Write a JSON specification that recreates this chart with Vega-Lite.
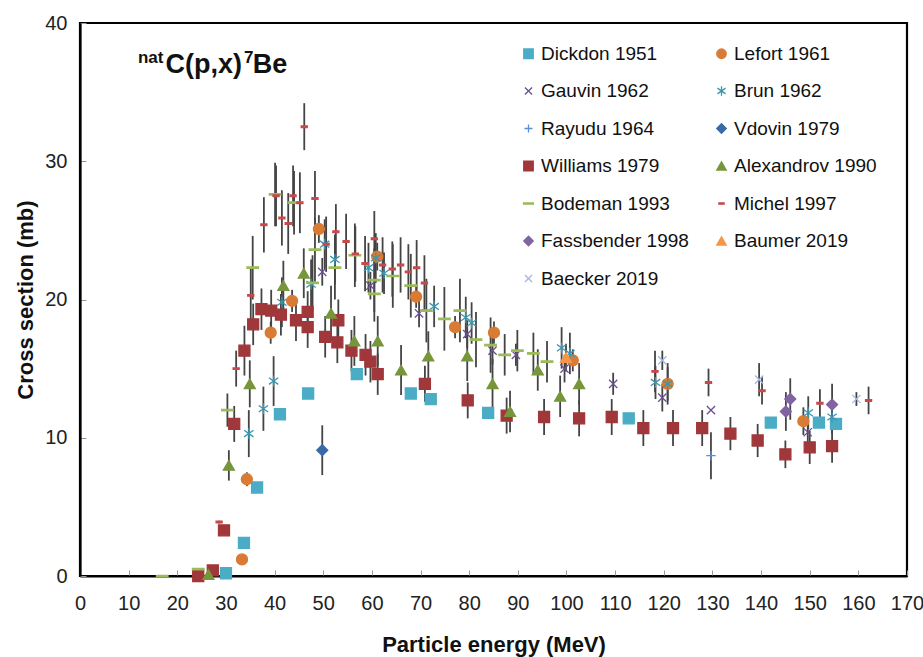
{
  "$schema": "https://vega.github.io/schema/vega-lite/v6.json",
  "width": 827,
  "height": 553,
  "autosize": {"type": "none"},
  "padding": {"left": 80, "top": 23, "right": 16, "bottom": 81},
  "config": {
    "font": "Liberation Sans",
    "view": {"stroke": "#000", "strokeWidth": 2.2},
    "axis": {"grid": false, "domainColor": "#000", "domainWidth": 2.2, "tickColor": "#999", "tickSize": -6, "tickWidth": 1, "labelFontSize": 20, "labelColor": "#222", "titleFontSize": 22, "titleFontWeight": "bold", "titleColor": "#111", "labelFont": "Liberation Sans", "titleFont": "Liberation Sans", "labelFlush": false, "labelOverlap": false},
    "legend": {"orient": "none", "legendX": 439, "legendY": 21, "columns": 2, "labelFontSize": 19, "labelColor": "#111", "labelFont": "Liberation Sans", "symbolSize": 90, "rowPadding": 17.5, "columnPadding": 23, "labelOffset": 3, "symbolStrokeWidth": 1.3, "padding": 0}
  },
  "datasets": {
    "pts": [
      {"s":"Dickdon 1951","x":30,"y":0.2,"e":0},{"s":"Dickdon 1951","x":33.7,"y":2.4,"e":0},{"s":"Dickdon 1951","x":36.4,"y":6.4,"e":0},{"s":"Dickdon 1951","x":41.1,"y":11.7,"e":0.4},{"s":"Dickdon 1951","x":46.9,"y":13.2,"e":0.4},{"s":"Dickdon 1951","x":56.9,"y":14.6,"e":0},{"s":"Dickdon 1951","x":68,"y":13.2,"e":0.3},{"s":"Dickdon 1951","x":72.1,"y":12.8,"e":0},{"s":"Dickdon 1951","x":83.9,"y":11.8,"e":0},{"s":"Dickdon 1951","x":112.8,"y":11.4,"e":0},{"s":"Dickdon 1951","x":142,"y":11.1,"e":0},{"s":"Dickdon 1951","x":151.9,"y":11.1,"e":0},{"s":"Dickdon 1951","x":155.4,"y":11.0,"e":0},
      {"s":"Lefort 1961","x":33.3,"y":1.2,"e":0},{"s":"Lefort 1961","x":34.3,"y":7.0,"e":0.5},{"s":"Lefort 1961","x":39.2,"y":17.6,"e":0.8},{"s":"Lefort 1961","x":43.6,"y":19.9,"e":0.8},{"s":"Lefort 1961","x":49.1,"y":25.1,"e":1.0},{"s":"Lefort 1961","x":61.1,"y":23.1,"e":1.0},{"s":"Lefort 1961","x":69.1,"y":20.2,"e":0.8},{"s":"Lefort 1961","x":77.1,"y":18.0,"e":0.8},{"s":"Lefort 1961","x":85.1,"y":17.6,"e":0.8},{"s":"Lefort 1961","x":101.3,"y":15.6,"e":0.8},{"s":"Lefort 1961","x":120.8,"y":13.9,"e":1.5},{"s":"Lefort 1961","x":148.7,"y":11.2,"e":1.0},
      {"s":"Gauvin 1962","x":49.8,"y":22.0,"e":1.0},{"s":"Gauvin 1962","x":59.7,"y":21.0,"e":1.0},{"s":"Gauvin 1962","x":69.7,"y":19.0,"e":1.0},{"s":"Gauvin 1962","x":79.6,"y":17.5,"e":1.0},{"s":"Gauvin 1962","x":84.8,"y":16.3,"e":1.0},{"s":"Gauvin 1962","x":89.6,"y":16.0,"e":0.8},{"s":"Gauvin 1962","x":99.6,"y":15.0,"e":1.0},{"s":"Gauvin 1962","x":109.6,"y":13.9,"e":0.8},{"s":"Gauvin 1962","x":119.7,"y":12.9,"e":1.0},{"s":"Gauvin 1962","x":129.7,"y":12.0,"e":0},{"s":"Gauvin 1962","x":149.6,"y":10.4,"e":0.8},
      {"s":"Brun 1962","x":34.7,"y":10.3,"e":1.7},{"s":"Brun 1962","x":37.7,"y":12.1,"e":1.6},{"s":"Brun 1962","x":39.8,"y":14.1,"e":1.8},{"s":"Brun 1962","x":41.5,"y":19.8,"e":1.8},{"s":"Brun 1962","x":47.5,"y":21.1,"e":1.8},{"s":"Brun 1962","x":50.3,"y":24.0,"e":1.8},{"s":"Brun 1962","x":52.4,"y":22.9,"e":1.8},{"s":"Brun 1962","x":59.3,"y":22.3,"e":1.8},{"s":"Brun 1962","x":60.8,"y":23.0,"e":1.8},{"s":"Brun 1962","x":62.5,"y":21.9,"e":1.5},{"s":"Brun 1962","x":72.8,"y":19.5,"e":1.5},{"s":"Brun 1962","x":79.3,"y":18.7,"e":1.5},{"s":"Brun 1962","x":80.5,"y":18.3,"e":1.5},{"s":"Brun 1962","x":99.0,"y":16.5,"e":1.5},{"s":"Brun 1962","x":100.7,"y":16.1,"e":1.5},{"s":"Brun 1962","x":118.3,"y":14.0,"e":1.2},{"s":"Brun 1962","x":120.8,"y":13.9,"e":1.2},{"s":"Brun 1962","x":149.7,"y":11.8,"e":1.2},{"s":"Brun 1962","x":154.6,"y":11.5,"e":1.2},
      {"s":"Rayudu 1964","x":129.7,"y":8.7,"e":1.7},
      {"s":"Vdovin 1979","x":49.8,"y":9.1,"e":1.8},
      {"s":"Williams 1979","x":24.3,"y":0,"e":0},{"s":"Williams 1979","x":27.3,"y":0.4,"e":0},{"s":"Williams 1979","x":29.6,"y":3.3,"e":0.3},{"s":"Williams 1979","x":31.7,"y":11.0,"e":1.3},{"s":"Williams 1979","x":33.8,"y":16.3,"e":1.8},{"s":"Williams 1979","x":35.6,"y":18.2,"e":1.5},{"s":"Williams 1979","x":37.3,"y":19.3,"e":1.5},{"s":"Williams 1979","x":39.3,"y":19.2,"e":1.5},{"s":"Williams 1979","x":41.3,"y":18.9,"e":1.5},{"s":"Williams 1979","x":44.4,"y":18.5,"e":1.5},{"s":"Williams 1979","x":46.8,"y":19.1,"e":1.5},{"s":"Williams 1979","x":46.8,"y":18.0,"e":1.5},{"s":"Williams 1979","x":50.4,"y":17.3,"e":1.5},{"s":"Williams 1979","x":53.1,"y":18.5,"e":1.5},{"s":"Williams 1979","x":52.9,"y":16.9,"e":1.5},{"s":"Williams 1979","x":55.8,"y":16.3,"e":1.5},{"s":"Williams 1979","x":58.7,"y":16.0,"e":1.5},{"s":"Williams 1979","x":59.7,"y":15.5,"e":1.5},{"s":"Williams 1979","x":61.2,"y":14.6,"e":1.5},{"s":"Williams 1979","x":70.9,"y":13.9,"e":1.3},{"s":"Williams 1979","x":79.7,"y":12.7,"e":1.3},{"s":"Williams 1979","x":87.7,"y":11.6,"e":1.3},{"s":"Williams 1979","x":95.4,"y":11.5,"e":1.3},{"s":"Williams 1979","x":102.6,"y":11.4,"e":1.3},{"s":"Williams 1979","x":109.3,"y":11.5,"e":1.3},{"s":"Williams 1979","x":115.8,"y":10.7,"e":1.3},{"s":"Williams 1979","x":121.9,"y":10.7,"e":1.3},{"s":"Williams 1979","x":127.9,"y":10.7,"e":1.3},{"s":"Williams 1979","x":133.7,"y":10.3,"e":1.2},{"s":"Williams 1979","x":139.3,"y":9.8,"e":1.2},{"s":"Williams 1979","x":145,"y":8.8,"e":1.0},{"s":"Williams 1979","x":150,"y":9.3,"e":1.2},{"s":"Williams 1979","x":154.6,"y":9.4,"e":1.2},
      {"s":"Alexandrov 1990","x":26.4,"y":0.1,"e":0},{"s":"Alexandrov 1990","x":30.6,"y":8.0,"e":1.1},{"s":"Alexandrov 1990","x":34.9,"y":13.9,"e":1.7},{"s":"Alexandrov 1990","x":41.8,"y":21.0,"e":1.8},{"s":"Alexandrov 1990","x":46,"y":21.9,"e":1.8},{"s":"Alexandrov 1990","x":51.6,"y":19.0,"e":2.0},{"s":"Alexandrov 1990","x":56.4,"y":17.0,"e":1.8},{"s":"Alexandrov 1990","x":61.2,"y":17.0,"e":1.8},{"s":"Alexandrov 1990","x":66,"y":14.9,"e":1.8},{"s":"Alexandrov 1990","x":71.6,"y":15.9,"e":1.8},{"s":"Alexandrov 1990","x":79.6,"y":15.9,"e":1.8},{"s":"Alexandrov 1990","x":84.8,"y":13.9,"e":1.8},{"s":"Alexandrov 1990","x":88.4,"y":11.9,"e":1.5},{"s":"Alexandrov 1990","x":94.1,"y":14.9,"e":1.5},{"s":"Alexandrov 1990","x":98.7,"y":13.0,"e":1.5},{"s":"Alexandrov 1990","x":102.6,"y":13.9,"e":1.5},
      {"s":"Bodeman 1993","x":16.9,"y":0,"e":0},{"s":"Bodeman 1993","x":24.3,"y":0.5,"e":0},{"s":"Bodeman 1993","x":30.3,"y":12.0,"e":1.2},{"s":"Bodeman 1993","x":35.5,"y":22.3,"e":2.3},{"s":"Bodeman 1993","x":40.1,"y":27.6,"e":2.3},{"s":"Bodeman 1993","x":44.0,"y":27.0,"e":2.3},{"s":"Bodeman 1993","x":48.3,"y":23.6,"e":2.3},{"s":"Bodeman 1993","x":47.8,"y":21.2,"e":2.0},{"s":"Bodeman 1993","x":52.4,"y":22.3,"e":2.3},{"s":"Bodeman 1993","x":56.5,"y":23.2,"e":2.3},{"s":"Bodeman 1993","x":60.5,"y":21.4,"e":2.3},{"s":"Bodeman 1993","x":60.5,"y":20.4,"e":2.0},{"s":"Bodeman 1993","x":64.3,"y":21.7,"e":2.3},{"s":"Bodeman 1993","x":68,"y":21.0,"e":2.3},{"s":"Bodeman 1993","x":71.2,"y":19.2,"e":2.3},{"s":"Bodeman 1993","x":74.9,"y":18.6,"e":2.3},{"s":"Bodeman 1993","x":78.1,"y":19.2,"e":2.3},{"s":"Bodeman 1993","x":81.4,"y":17.1,"e":2.0},{"s":"Bodeman 1993","x":84.4,"y":16.7,"e":2.0},{"s":"Bodeman 1993","x":87.3,"y":16.0,"e":1.5},{"s":"Bodeman 1993","x":89.9,"y":16.3,"e":1.5},{"s":"Bodeman 1993","x":93.2,"y":16.1,"e":1.5},{"s":"Bodeman 1993","x":96.0,"y":15.5,"e":1.5},
      {"s":"Michel 1997","x":28.6,"y":3.9,"e":0.1},{"s":"Michel 1997","x":32.1,"y":15.0,"e":1.3},{"s":"Michel 1997","x":35.1,"y":20.3,"e":2.0},{"s":"Michel 1997","x":37.8,"y":25.4,"e":2.0},{"s":"Michel 1997","x":40.3,"y":27.5,"e":2.2},{"s":"Michel 1997","x":41.5,"y":25.9,"e":2.0},{"s":"Michel 1997","x":42.8,"y":25.5,"e":2.2},{"s":"Michel 1997","x":43.8,"y":27.5,"e":2.2},{"s":"Michel 1997","x":45.2,"y":27.0,"e":2.2},{"s":"Michel 1997","x":46.1,"y":32.5,"e":1.7},{"s":"Michel 1997","x":48.3,"y":27.3,"e":2.0},{"s":"Michel 1997","x":50.6,"y":24.0,"e":2.0},{"s":"Michel 1997","x":52.6,"y":24.9,"e":2.0},{"s":"Michel 1997","x":54.7,"y":24.2,"e":2.0},{"s":"Michel 1997","x":56.6,"y":23.3,"e":2.0},{"s":"Michel 1997","x":58.6,"y":22.6,"e":2.0},{"s":"Michel 1997","x":60.5,"y":24.4,"e":2.0},{"s":"Michel 1997","x":62.2,"y":22.5,"e":2.0},{"s":"Michel 1997","x":64.2,"y":22.2,"e":2.0},{"s":"Michel 1997","x":65.9,"y":22.5,"e":2.0},{"s":"Michel 1997","x":67.5,"y":22.0,"e":2.0},{"s":"Michel 1997","x":69.2,"y":22.3,"e":2.0},{"s":"Michel 1997","x":70.8,"y":21.2,"e":2.0},{"s":"Michel 1997","x":118.2,"y":14.8,"e":1.5},{"s":"Michel 1997","x":129.2,"y":14.0,"e":1.0},{"s":"Michel 1997","x":140.2,"y":13.4,"e":1.0},{"s":"Michel 1997","x":152.1,"y":12.5,"e":1.0},{"s":"Michel 1997","x":162.1,"y":12.7,"e":1.0},
      {"s":"Fassbender 1998","x":146,"y":12.8,"e":1.5},{"s":"Fassbender 1998","x":145.1,"y":11.9,"e":1.4},{"s":"Fassbender 1998","x":154.6,"y":12.4,"e":1.5},
      {"s":"Baumer 2019","x":99.9,"y":15.8,"e":1.0},
      {"s":"Baecker 2019","x":119.7,"y":15.6,"e":0.7},{"s":"Baecker 2019","x":139.6,"y":14.2,"e":1.2},{"s":"Baecker 2019","x":159.6,"y":12.8,"e":0.5}
    ],
    "sup": [{"t":"nat","x":11.9,"y":37.1},{"t":"7","x":33.7,"y":37.1}],
    "main": [{"t":"C(p,x)","x":17.6,"y":36.4},{"t":"Be","x":35.5,"y":36.4}]
  },
  "layer": [
    {
      "data": {"name": "pts"},
      "transform": [{"filter": "datum.e > 0"}],
      "mark": {"type": "errorbar", "color": "#444", "thickness": 1.8},
      "encoding": {
        "x": {"field": "x", "type": "quantitative", "scale": {"domain": [0, 170], "nice": false}, "axis": {"values": [0,10,20,30,40,50,60,70,80,90,100,110,120,130,140,150,160,170], "title": "Particle energy (MeV)", "labelPadding": 23, "titlePadding": 21}},
        "y": {"field": "y", "type": "quantitative", "scale": {"domain": [0, 40], "nice": false}, "axis": {"values": [0,10,20,30,40], "title": "Cross section (mb)", "labelPadding": 19, "titlePadding": 7}},
        "yError": {"field": "e"}
      }
    },
    {
      "data": {"name": "pts"},
      "mark": {"type": "point", "size": 121, "strokeWidth": 1.3, "opacity": 1},
      "encoding": {
        "x": {"field": "x", "type": "quantitative"},
        "y": {"field": "y", "type": "quantitative"},
        "shape": {"field": "s", "type": "nominal", "title": null, "scale": {
          "domain": ["Dickdon 1951","Gauvin 1962","Rayudu 1964","Williams 1979","Bodeman 1993","Fassbender 1998","Baecker 2019","Lefort 1961","Brun 1962","Vdovin 1979","Alexandrov 1990","Michel 1997","Baumer 2019"],
          "range": ["square","M-0.75,-0.75L0.75,0.75M-0.75,0.75L0.75,-0.75","M-0.85,0L0.85,0M0,-0.85L0,0.85","square","M-1.05,-0.13L1.05,-0.13L1.05,0.13L-1.05,0.13Z","diamond","M-0.75,-0.75L0.75,0.75M-0.75,0.75L0.75,-0.75","circle","M-0.85,-0.6L0.85,0.6M-0.85,0.6L0.85,-0.6M0,-1L0,1","diamond","triangle-up","M-0.55,-0.15L0.55,-0.15L0.55,0.15L-0.55,0.15Z","triangle-up"]}},
        "fill": {"field": "s", "type": "nominal", "title": null, "scale": {
          "domain": ["Dickdon 1951","Gauvin 1962","Rayudu 1964","Williams 1979","Bodeman 1993","Fassbender 1998","Baecker 2019","Lefort 1961","Brun 1962","Vdovin 1979","Alexandrov 1990","Michel 1997","Baumer 2019"],
          "range": ["#4bacc6","transparent","transparent","#a0373a","#9bbb59","#8064a2","transparent","#d97b34","transparent","#3a6aa6","#77963b","#c9484a","#f79646"]}},
        "stroke": {"field": "s", "type": "nominal", "title": null, "scale": {
          "domain": ["Dickdon 1951","Gauvin 1962","Rayudu 1964","Williams 1979","Bodeman 1993","Fassbender 1998","Baecker 2019","Lefort 1961","Brun 1962","Vdovin 1979","Alexandrov 1990","Michel 1997","Baumer 2019"],
          "range": ["#4bacc6","#6c4f96","#5b8fd5","#a0373a","#9bbb59","#8064a2","#a3b7df","#d97b34","#3b96ad","#3a6aa6","#77963b","#c9484a","#f79646"]}}
      }
    },
    {
      "data": {"name": "sup"},
      "mark": {"type": "text", "align": "left", "baseline": "alphabetic", "fontSize": 17, "fontWeight": "bold", "color": "#111"},
      "encoding": {"x": {"field": "x", "type": "quantitative"}, "y": {"field": "y", "type": "quantitative"}, "text": {"field": "t"}}
    },
    {
      "data": {"name": "main"},
      "mark": {"type": "text", "align": "left", "baseline": "alphabetic", "fontSize": 27, "fontWeight": "bold", "color": "#111"},
      "encoding": {"x": {"field": "x", "type": "quantitative"}, "y": {"field": "y", "type": "quantitative"}, "text": {"field": "t"}}
    }
  ]
}
